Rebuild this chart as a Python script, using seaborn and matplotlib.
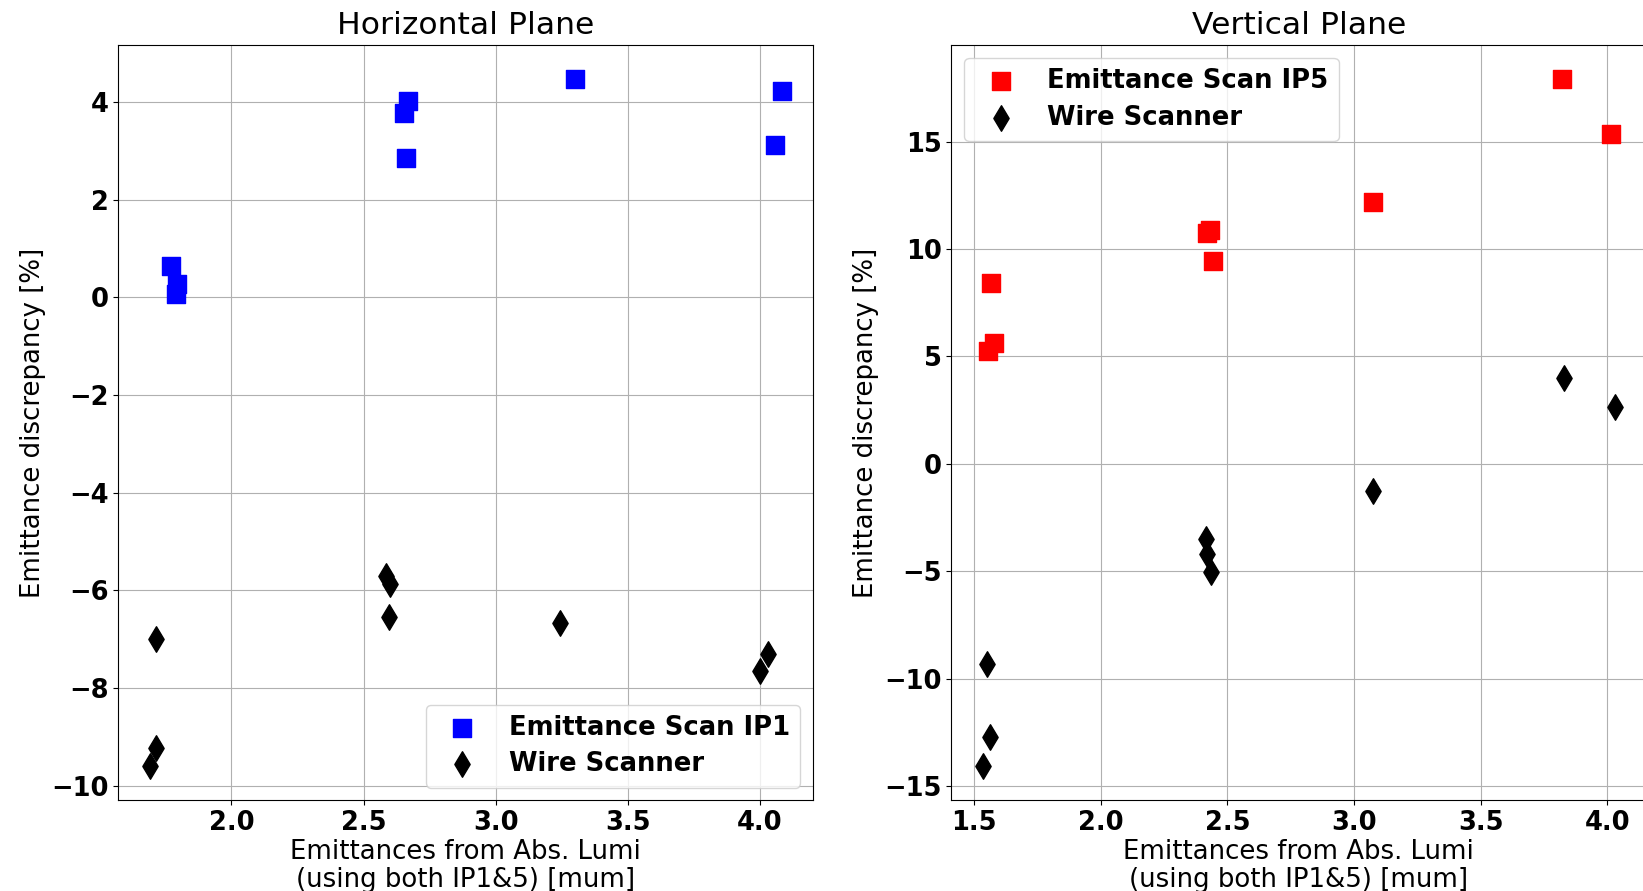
import matplotlib
matplotlib.use("Agg")
import matplotlib.pyplot as plt
import pandas as pd
import seaborn as sns

# Horizontal plane: discrepancy of each method vs. emittance from absolute luminosity
h_scan_x = [1.770, 1.793, 1.790, 2.652, 2.668, 2.661, 3.301, 4.082, 4.059]
h_scan_y = [0.64, 0.26, 0.07, 3.78, 4.01, 2.85, 4.46, 4.22, 3.11]
h_wire_x = [1.716, 1.714, 1.692, 2.584, 2.601, 2.598, 3.244, 4.000, 4.030]
h_wire_y = [-7.00, -9.23, -9.60, -5.71, -5.88, -6.54, -6.66, -7.65, -7.31]

# Vertical plane
v_scan_x = [1.567, 1.553, 1.580, 2.420, 2.433, 2.443, 3.074, 3.820, 4.015]
v_scan_y = [8.42, 5.27, 5.62, 10.75, 10.88, 9.44, 12.18, 17.90, 15.36]
v_wire_x = [1.549, 1.562, 1.535, 2.416, 2.420, 2.434, 3.075, 3.831, 4.029]
v_wire_y = [-9.30, -12.72, -14.07, -3.51, -4.20, -5.05, -1.24, 3.99, 2.64]

titles = ["Horizontal Plane", "Vertical Plane"]
scan_labels = ["Emittance Scan IP1", "Emittance Scan IP5"]
scan_colors = ["blue", "red"]
wire_label = "Wire Scanner"
xlabel = "Emittances from Abs. Lumi\n(using both IP1&5) [mum]"
ylabel = "Emittance discrepancy [%]"

sns.set_style("whitegrid", rc={
    "axes.edgecolor": "black",
    "axes.linewidth": 1.0,
    "grid.color": "#b0b0b0",
    "grid.linewidth": 0.8,
    "xtick.bottom": True,
    "ytick.left": True,
    "xtick.color": "black",
    "ytick.color": "black",
    "axes.labelcolor": "black",
    "text.color": "black",
})
plt.rcParams["font.family"] = ["DejaVu Sans"]
plt.rcParams["font.size"] = 18.5
plt.rcParams["xtick.major.size"] = 3.5
plt.rcParams["ytick.major.size"] = 3.5

fig = plt.figure(figsize=(16.43, 8.91), dpi=100)
ax_h = fig.add_axes([0.0721, 0.1016, 0.4228, 0.8479])
ax_v = fig.add_axes([0.5791, 0.1016, 0.4228, 0.8479])

panels = [
    (ax_h, h_scan_x, h_scan_y, h_wire_x, h_wire_y, "lower right"),
    (ax_v, v_scan_x, v_scan_y, v_wire_x, v_wire_y, "upper left"),
]

for i, (ax, sx, sy, wx, wy, loc) in enumerate(panels):
    scan = pd.DataFrame({"x": sx, "y": sy})
    wire = pd.DataFrame({"x": wx, "y": wy})
    sns.scatterplot(data=scan, x="x", y="y", ax=ax, marker="s", s=13 ** 2,
                    color=scan_colors[i], edgecolor=scan_colors[i], linewidth=1,
                    label=scan_labels[i], zorder=3)
    sns.scatterplot(data=wire, x="x", y="y", ax=ax, marker="d", s=13 ** 2,
                    color="black", edgecolor="black", linewidth=1,
                    label=wire_label, zorder=3)
    ax.margins(0.05)
    ax.set_title(titles[i], fontsize=22.6, pad=8)
    ax.set_xlabel(xlabel, fontsize=18.7, labelpad=2, linespacing=1.1)
    ax.set_ylabel(ylabel, fontsize=18.7)
    ax.tick_params(labelsize=18.5)
    for lab in ax.get_xticklabels() + ax.get_yticklabels():
        lab.set_fontweight("bold")
    ax.grid(True)
    ax.set_axisbelow(True)
    ax.legend(loc=loc, prop={"weight": "bold", "size": 18.6}, framealpha=0.8,
              edgecolor="0.8", fancybox=True, labelspacing=0.4)

fig.savefig("out.png", dpi=100)
